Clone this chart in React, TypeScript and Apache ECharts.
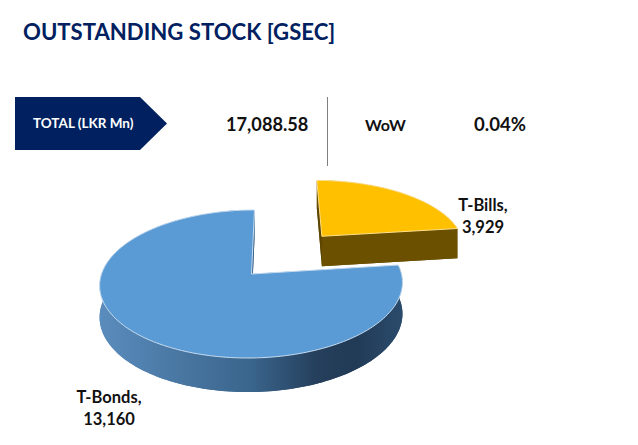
import React, { useEffect, useRef } from "react";
import * as echarts from "echarts";

const titleText = "OUTSTANDING STOCK [GSEC]";
const totalLabel = "TOTAL (LKR Mn)";
const totalValue = "17,088.58";
const wowLabel = "WoW";
const wowValue = "0.04%";
const categories = ["T-Bonds", "T-Bills"];
const values = [13160, 3929];
const explode = [0, 0.744];

const FONT = "Lato, 'Open Sans', sans-serif";
const NAVY = "#002060";
const INK = "#111111";

const X0 = 251.5, Y0 = 274, A = 72.65, B = 150, K = 3.4, P = 0.135;
const H = 31.3, Q = 0.08;

function project(u: number, v: number, down: boolean): number[] {
  const d = 1 + P * v;
  const x = X0 + (B * u + K * v) / d;
  let y = Y0 - (A * v) / d;
  if (down) y += H / (1 + Q * v);
  return [x, y];
}

const total = values.reduce((s, n) => s + n, 0);
const labelPos = [
  { x: 109, y: 408 },
  { x: 483, y: 216 },
];

function renderSlice(params: any, api: any) {
  const i = params.dataIndex;
  const value = api.value(0);
  const lastShare = values[values.length - 1] / total;
  let startShare = lastShare;
  for (let j = 0; j < i; j++) startShare += values[j] / total;
  const a0 = startShare * Math.PI * 2;
  const a1 = a0 + (value / total) * Math.PI * 2;
  const mid = (a0 + a1) / 2;
  const e = explode[i];
  const ou = e * Math.sin(mid);
  const ov = e * Math.cos(mid);
  const arc: number[][] = [];
  const steps = Math.max(24, Math.round((a1 - a0) * 40));
  for (let s = 0; s <= steps; s++) {
    const t = a0 + ((a1 - a0) * s) / steps;
    arc.push([ou + Math.sin(t), ov + Math.cos(t)]);
  }
  const topArc = arc.map((p) => project(p[0], p[1], false));
  const botArc = arc.map((p) => project(p[0], p[1], true));
  const apexTop = project(ou, ov, false);
  const apexBot = project(ou, ov, true);
  const isBlue = i === 0;
  const wallFill: any = isBlue
    ? new echarts.graphic.LinearGradient(
        99, 0, 402, 0,
        [
          { offset: 0, color: "#5a8cbd" },
          { offset: 0.25, color: "#4a78a4" },
          { offset: 0.5, color: "#3a658c" },
          { offset: 0.72, color: "#253f5c" },
          { offset: 0.85, color: "#213b56" },
          { offset: 1, color: "#2b4b6c" },
        ],
        true
      )
    : "#6b5000";
  const topFill = isBlue ? "#5b9bd5" : "#ffc000";
  const edge = isBlue ? "#c6dcf0" : "#ffe08a";
  const children: any[] = [];
  const poly = (points: number[][], fill: any, stroke?: string, lw?: number) => ({
    type: "polygon",
    shape: { points },
    style: { fill, stroke: stroke || "none", lineWidth: lw || 0 },
  });
  // floor of the slice, the inner walls, the curved wall, then the lid
  children.push(poly([apexBot, ...botArc], wallFill));
  children.push(
    poly([apexTop, topArc[0], botArc[0], apexBot], isBlue ? "#7fa3c6" : "#5c4500")
  );
  children.push(
    poly([apexTop, topArc[topArc.length - 1], botArc[botArc.length - 1], apexBot], wallFill)
  );
  children.push(poly([...topArc, ...botArc.slice().reverse()], wallFill));
  children.push(poly([apexTop, ...topArc], topFill, edge, 1));
  const pos = labelPos[i];
  children.push({
    type: "text",
    style: {
      x: pos.x,
      y: pos.y,
      text: categories[i] + ",\n" + value.toLocaleString("en-US"),
      fill: INK,
      font: "700 16.5px " + FONT,
      lineHeight: 22,
      align: "center",
      verticalAlign: "middle",
    },
  });
  return { type: "group", children };
}

export default function App() {
  const ref = useRef<HTMLDivElement>(null);
  useEffect(() => {
    const chart = echarts.init(ref.current!, null, { renderer: "svg" });
    const label = (text: string, x: number, y: number, size: number, fill = INK, scaleX = 1) => ({
      type: "text",
      x,
      y,
      scaleX,
      style: { text, fill, font: "700 " + size + "px " + FONT, align: "left", verticalAlign: "middle" },
    });
    chart.setOption({
      animation: false,
      backgroundColor: "#ffffff",
      graphic: [
        label(titleText, 23, 31, 23, NAVY, 0.963),
        {
          type: "polygon",
          shape: { points: [[15, 97], [140, 97], [167, 123.5], [140, 150], [15, 150]] },
          style: { fill: NAVY },
        },
        label(totalLabel, 33, 123, 13.5, "#ffffff"),
        label(totalValue, 226, 124, 18.2),
        { type: "line", shape: { x1: 327.5, y1: 97, x2: 327.5, y2: 166 }, style: { stroke: "#7f7f7f", lineWidth: 1 } },
        label(wowLabel, 365, 124, 16),
        label(wowValue, 474, 124, 18.6),
      ],
      series: [
        {
          type: "custom",
          coordinateSystem: "none",
          renderItem: renderSlice,
          data: values.map((v) => [v]),
          silent: true,
        },
      ],
    });
    return () => chart.dispose();
  }, []);
  return <div ref={ref} style={{ position: "absolute", left: 0, top: 0, width: 638, height: 445 }} />;
}
